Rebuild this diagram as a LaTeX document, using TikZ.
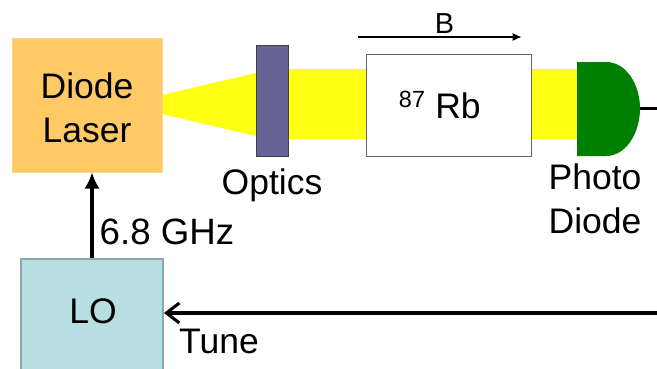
\documentclass[tikz,border=0pt]{standalone}
\usepackage{fontspec}
\setmainfont{Liberation Sans}
\usepackage{tikz}
\usetikzlibrary{arrows.meta,calc,positioning,backgrounds}
\definecolor{laserfill}{HTML}{FFC966}
\definecolor{opticsfill}{HTML}{646496}
\definecolor{lofill}{HTML}{B7DEE1}
\definecolor{loedge}{HTML}{8AA8AC}
\definecolor{beam}{HTML}{FFFF14}
\definecolor{diodegreen}{HTML}{008000}
\definecolor{rbedge}{HTML}{666666}
\newcommand{\labelfont}{\fontsize{30.3}{38}\selectfont}
\tikzset{
  blocklabel/.style={font=\labelfont,align=center,inner sep=0pt},
  sig/.style={line width=3.4pt}
}
\begin{document}
\begin{tikzpicture}[x=0.03cm,y=-0.03cm,>=Latex]
\useasboundingbox (0,0) rectangle (657,368);
\node[fill=laserfill,draw=laserfill!80!white,minimum width=4.5cm,minimum height=4.02cm,inner sep=0pt] (laser) at (87,105) {};
\node[blocklabel] (laserlabel) at (87,107.5) {Diode\\[-0.5pt]Laser};
\node[fill=opticsfill,draw=black!75,line width=0.8pt,minimum width=0.96cm,minimum height=3.33cm,inner sep=0pt] (optics) at (272,101) {};
\node[fill=white,draw=rbedge,line width=0.8pt,minimum width=4.95cm,minimum height=3.06cm,inner sep=0pt] (rb) at (448.5,105) {};
\node[blocklabel,anchor=base] (rblabel) at (458,118) {Rb};
\node[font=\fontsize{20}{24}\selectfont,inner sep=0pt,anchor=base] (iso) at (412,107) {87};
\node[fill=lofill,draw=loedge,line width=1.6pt,minimum width=4.26cm,minimum height=3.6cm,inner sep=0pt,anchor=north] (lo) at (92,258) {};
\node[blocklabel] (lolabel) at (93,311) {LO};
% photodiode
\coordinate (pdnw) at (577,62);
\coordinate (pdsw) at (577,156);
\coordinate (pdout) at (640,108.5);
\coordinate (pdend) at (657,108.5);
\coordinate (tunestart) at (657,313);
\coordinate (tuneend) at (lo.east |- tunestart);
\fill[diodegreen] (pdnw) -- (606,62) .. controls (626,62) and (640,84) .. (pdout) .. controls (640,133) and (626,156) .. (606,156) -- (pdsw) -- cycle;
\begin{scope}[on background layer]
\fill[beam] (162,95) -- (256,73) -- (256,136) -- (162,114) -- cycle;
\fill[beam] (optics.east |- 0,69) rectangle (rb.west |- 0,139);
\fill[beam] (rb.east |- 0,69) rectangle (pdnw |- 0,139);
\end{scope}
\draw[sig] (pdout) -- (pdend);
\draw[sig,-{Latex[length=14pt,width=13pt]}] (lo.north -| 92,0) -- (laser.south -| 92,0);
\draw[line width=2.6pt,-{Straight Barb[length=11pt,width=17pt,line width=2.6pt]}] (tunestart) -- (tuneend);
\coordinate (bstart) at (358,37);
\coordinate (bend) at (522,37);
\draw[line width=2.1pt,-{Latex[length=8pt,width=7pt]}] (bstart) -- (bend);
\node[font=\fontsize{24.7}{28}\selectfont,inner sep=0pt] (blabel) at (444.5,24) {B};
\node[blocklabel] (opticslabel) at (272,185) {Optics};
\node[blocklabel] (pdlabel) at (595,199) {Photo\\[-0.5pt]Diode};
\node[blocklabel,font=\fontsize{31.3}{38}\selectfont] (ghzlabel) at (167,232) {6.8 GHz};
\node[blocklabel] (tunelabel) at (219,341) {Tune};
\end{tikzpicture}
\end{document}
